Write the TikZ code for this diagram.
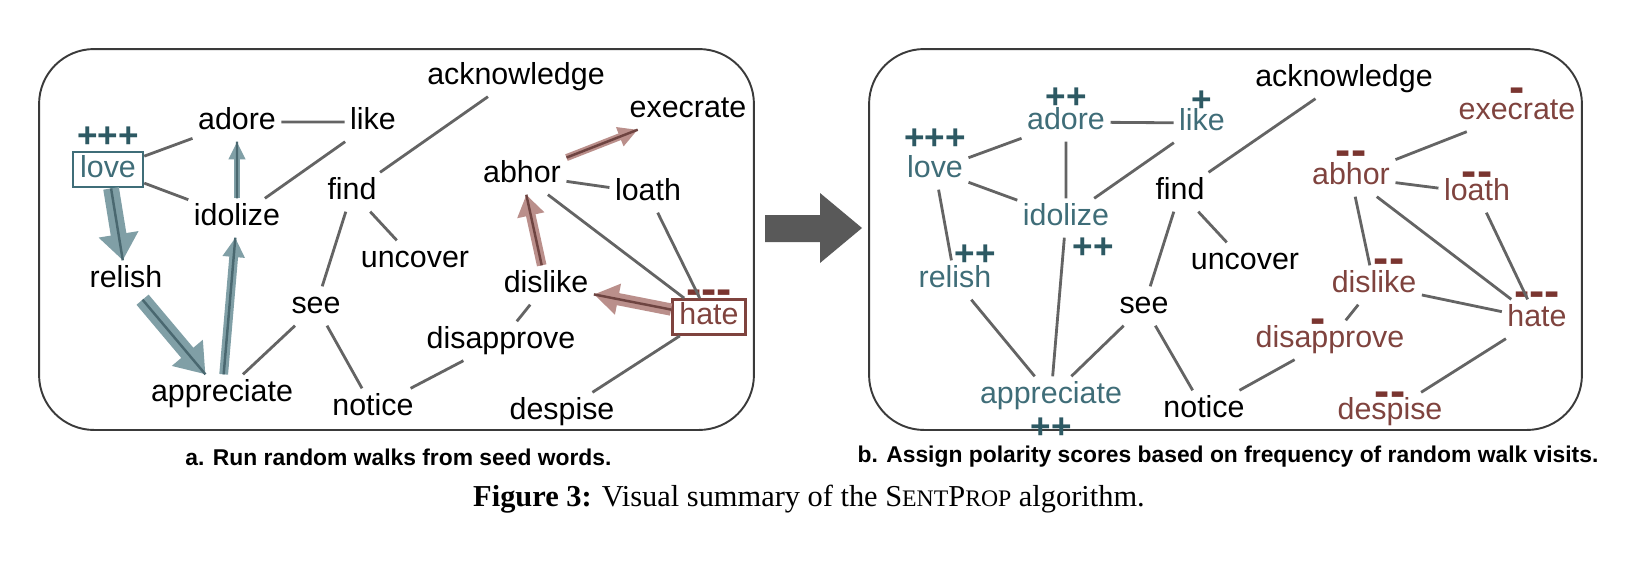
\documentclass[tikz,border=0pt]{standalone}
\usepackage{fontspec}
\setmainfont{Liberation Sans}
\newfontfamily\serifcap{Liberation Serif}
\usetikzlibrary{positioning,arrows.meta}
\definecolor{tealword}{HTML}{3F6D78}
\definecolor{tealdark}{HTML}{2D5963}
\definecolor{tealwalk}{HTML}{809FA6}
\definecolor{tealcore}{HTML}{4A6870}
\definecolor{redword}{HTML}{7F433E}
\definecolor{reddark}{HTML}{7A3530}
\definecolor{redwalk}{HTML}{BA8F8B}
\definecolor{redcore}{HTML}{6E4441}
\definecolor{edgegray}{HTML}{646464}
\definecolor{panelgray}{HTML}{3A3A3A}
\definecolor{bigarrow}{HTML}{595959}
\tikzset{
  line/.style={draw=edgegray, line width=1.6pt},
  word/.style={font=\fontsize{17.3}{20}\selectfont, text height=12.4pt,
    text depth=3.6pt, inner sep=3pt},
  tealnode/.style={word, text=tealword},
  rednode/.style={word, text=redword},
  seedbox/.style={word, draw, line width=1.5pt, inner ysep=2pt, inner xsep=4pt},
  pluses/.style={font=\fontsize{20}{20}\selectfont\bfseries, text=tealdark, inner sep=0pt},
  minuses/.style={font=\fontsize{26}{26}\selectfont\bfseries, text=reddark, inner sep=0pt},
  panel/.style={draw=panelgray, line width=1.1pt, rounded corners=1.1cm,
    minimum height=7.62cm},
  tealarrow/.style={draw=tealwalk},
  redarrow/.style={draw=redwalk},
  tealline/.style={draw=tealcore, line width=1.4pt},
  redline/.style={draw=redcore, line width=1.4pt},
  subcap/.style={font=\bfseries\fontsize{13}{15}\selectfont},
}
\begin{document}
\begin{tikzpicture}[x=0.02cm, y=-0.02cm]
  \useasboundingbox (0,0) rectangle (1646,562);
  % the two panels and the arrow between them
  \node[panel, minimum width=14.3cm] (PanelA) at (396.5,239.5) {};
  \node[panel, minimum width=14.26cm] (PanelB) at (1225.5,239.5) {};
  \fill[bigarrow] (765,215) -- (820,215) -- (820,193) -- (862,228)
    -- (820,263) -- (820,242) -- (765,242) -- cycle;
  %% a. random walks from the seeds
  \node[seedbox, text=tealword, draw=tealword] (LoveA) at (108,169.5) {love};
  \node[word] (AdoreA) at (237,122) {adore};
  \node[word] (LikeA) at (373,122) {like};
  \node[word] (IdolizeA) at (237,218) {idolize};
  \node[word] (RelishA) at (126,280) {relish};
  \node[word] (AppreciateA) at (222,394) {appreciate};
  \node[word] (AcknowledgeA) at (516,77) {acknowledge};
  \node[word] (FindA) at (352,192) {find};
  \node[word] (UncoverA) at (415,260) {uncover};
  \node[word] (SeeA) at (316,306) {see};
  \node[word] (NoticeA) at (373,408) {notice};
  \node[word] (ExecrateA) at (688,110) {execrate};
  \node[word] (AbhorA) at (522,175) {abhor};
  \node[word] (LoathA) at (648,193) {loath};
  \node[word] (DislikeA) at (546,285) {dislike};
  \node[word] (DisapproveA) at (501,341) {disapprove};
  \node[seedbox, text=redword, draw=redword] (HateA) at (709,317) {hate};
  \node[word] (DespiseA) at (562,412) {despise};
  \node[pluses, above=0.06cm of LoveA] (LoveScoreA) {+++};
  \node[minuses, above=-0.13cm of HateA] (HateScoreA) {-{}-{}-};
  \draw[line] (LoveA) -- (AdoreA) (LoveA) -- (IdolizeA) (AdoreA) -- (LikeA)
    (LikeA) -- (IdolizeA) (AcknowledgeA) -- (FindA) (FindA) -- (UncoverA)
    (FindA) -- (SeeA) (SeeA) -- (AppreciateA) (SeeA) -- (NoticeA)
    (NoticeA) -- (DisapproveA) (DisapproveA) -- (DislikeA) (AbhorA) -- (LoathA)
    (AbhorA) -- (HateA) (LoathA) -- (HateA) (HateA) -- (DespiseA);
  \draw[tealarrow, line width=9pt, -{Triangle[length=15pt,width=22pt]}] (LoveA) -- (RelishA);
  \draw[tealarrow, line width=9pt, -{Triangle[length=16pt,width=22pt]}] (RelishA) -- (AppreciateA);
  \draw[tealarrow, line width=5pt, -{Triangle[length=11pt,width=12pt]}] (AppreciateA) -- (IdolizeA);
  \draw[tealarrow, line width=3.2pt, -{Triangle[length=10pt,width=9pt]}] (IdolizeA) -- (AdoreA);
  \draw[tealline] (LoveA) -- (RelishA) (RelishA) -- (AppreciateA)
    (AppreciateA) -- (IdolizeA) (IdolizeA) -- (AdoreA);
  \draw[redarrow, line width=7pt, -{Triangle[length=14pt,width=17pt]}] (HateA) -- (DislikeA);
  \draw[redarrow, line width=5.5pt, -{Triangle[length=12pt,width=15pt]}] (DislikeA) -- (AbhorA);
  \draw[redarrow, line width=4pt, -{Triangle[length=11pt,width=11pt]}] (AbhorA) -- (ExecrateA);
  \draw[redline] (HateA) -- (DislikeA) (DislikeA) -- (AbhorA) (AbhorA) -- (ExecrateA);
  %% b. polarity scores
  \node[tealnode] (LoveB) at (935,170) {love};
  \node[tealnode] (AdoreB) at (1066,122) {adore};
  \node[tealnode] (LikeB) at (1202,123) {like};
  \node[tealnode] (IdolizeB) at (1066,218) {idolize};
  \node[tealnode] (RelishB) at (955,280) {relish};
  \node[tealnode] (AppreciateB) at (1051,396) {appreciate};
  \node[word] (AcknowledgeB) at (1344,79) {acknowledge};
  \node[word] (FindB) at (1180,192) {find};
  \node[word] (UncoverB) at (1245,262) {uncover};
  \node[word] (SeeB) at (1144,306) {see};
  \node[word] (NoticeB) at (1204,410) {notice};
  \node[rednode] (ExecrateB) at (1517,112) {execrate};
  \node[rednode] (AbhorB) at (1351,177) {abhor};
  \node[rednode] (LoathB) at (1477,193) {loath};
  \node[rednode] (DislikeB) at (1374,285) {dislike};
  \node[rednode] (DisapproveB) at (1330,340) {disapprove};
  \node[rednode] (HateB) at (1537,319) {hate};
  \node[rednode] (DespiseB) at (1390,412) {despise};
  \node[pluses, above=0cm of LoveB] (LoveScoreB) {+++};
  \node[pluses, above=-0.13cm of AdoreB] (AdoreScoreB) {++};
  \node[pluses, above=-0.17cm of LikeB] (LikeScoreB) {+};
  \node[pluses, below=0cm of IdolizeB, xshift=0.54cm] (IdolizeScoreB) {++};
  \node[pluses, above=-0.11cm of RelishB, xshift=0.4cm] (RelishScoreB) {++};
  \node[pluses, below=0.03cm of AppreciateB] (AppreciateScoreB) {++};
  \node[minuses, above=-0.22cm of ExecrateB] (ExecrateScoreB) {-};
  \node[minuses, above=-0.18cm of AbhorB] (AbhorScoreB) {-{}-};
  \node[minuses, above=-0.28cm of LoathB] (LoathScoreB) {-{}-};
  \node[minuses, above=-0.18cm of DislikeB, xshift=0.3cm] (DislikeScoreB) {-{}-};
  \node[minuses, above=-0.28cm of DisapproveB, xshift=-0.24cm] (DisapproveScoreB) {-};
  \node[minuses, above=-0.16cm of HateB] (HateScoreB) {-{}-{}-};
  \node[minuses, above=-0.30cm of DespiseB] (DespiseScoreB) {-{}-};
  \draw[line] (LoveB) -- (AdoreB) (LoveB) -- (IdolizeB) (LoveB) -- (RelishB)
    (AdoreB) -- (LikeB) (AdoreB) -- (IdolizeB) (LikeB) -- (IdolizeB)
    (IdolizeB) -- (AppreciateB) (RelishB) -- (AppreciateB) (SeeB) -- (AppreciateB)
    (AcknowledgeB) -- (FindB) (FindB) -- (UncoverB) (FindB) -- (SeeB)
    (SeeB) -- (NoticeB) (NoticeB) -- (DisapproveB) (DisapproveB) -- (DislikeB)
    (DislikeB) -- (HateB) (DislikeB) -- (AbhorB) (AbhorB) -- (ExecrateB)
    (AbhorB) -- (LoathB) (AbhorB) -- (HateB) (LoathB) -- (HateB) (HateB) -- (DespiseB);
  %% captions
  \node[subcap] (CaptionA) at (398.5,457) {a. Run random walks from seed words.};
  \node[subcap] (CaptionB) at (1228,457) {b. Assign polarity scores based on frequency of random walk visits.};
  \node[font=\serifcap\fontsize{17.3}{20}\selectfont] (FigCaption) at (809,499)
    {\textbf{Figure 3:} Visual summary of the S{\fontsize{13.5}{15}\selectfont ENT}P{\fontsize{13.5}{15}\selectfont ROP} algorithm.};
\end{tikzpicture}
\end{document}
